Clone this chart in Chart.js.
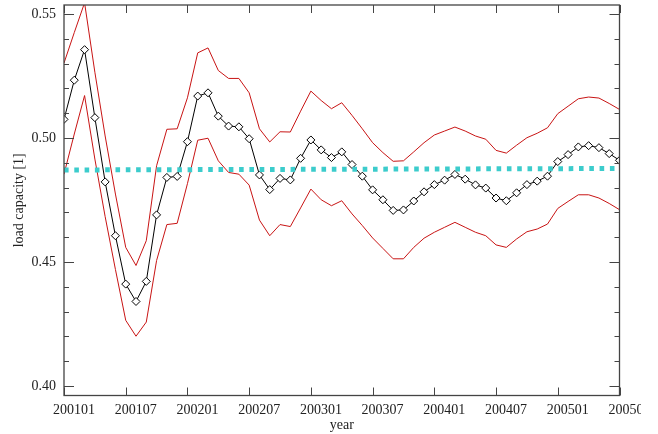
<!DOCTYPE html>
<html>
<head>
<meta charset="utf-8">
<script src="https://cdn.jsdelivr.net/npm/chart.js@4.4.0/dist/chart.umd.min.js"></script>
<style>
  html, body { margin: 0; padding: 0; background: #fff; width: 658px; height: 434px; overflow: hidden; }
  #wrap { position: absolute; left: 0; top: 0; width: 641px; height: 434px; }
</style>
</head>
<body>
<div id="wrap"><canvas id="c" width="641" height="434"></canvas></div>
<script>
// Month index from Jan 2001 (0) to Jul 2005 (54)
const monthIndex = Array.from({ length: 55 }, (_, i) => i);

// Axis ticks
const xTickMonths = [0, 6, 12, 18, 24, 30, 36, 42, 48, 54];
const xTickLabels = ['200101', '200107', '200201', '200207', '200301', '200307', '200401', '200407', '200501', '200507'];
const yTickValues = [0.40, 0.45, 0.50, 0.55];

// Monthly load capacity
const capacity = [
  0.5075, 0.5233, 0.5356, 0.5082, 0.4823, 0.4606, 0.4411, 0.4341, 0.4422, 0.4690,
  0.4841, 0.4845, 0.4985, 0.5169, 0.5182, 0.5088, 0.5048, 0.5045, 0.4997, 0.4851,
  0.4792, 0.4837, 0.4831, 0.4918, 0.4992, 0.4952, 0.4921, 0.4944, 0.4893, 0.4846,
  0.4791, 0.4751, 0.4708, 0.4710, 0.4746, 0.4783, 0.4812, 0.4830, 0.4853, 0.4834,
  0.4811, 0.4798, 0.4758, 0.4747, 0.4779, 0.4812, 0.4826, 0.4846, 0.4905, 0.4933,
  0.4964, 0.4969, 0.4961, 0.4937, 0.4910
];

// Upper and lower uncertainty bounds
const upperBound = [
  0.5302, 0.5425, 0.5545, 0.5265, 0.5008, 0.4774, 0.4559, 0.4486, 0.4586, 0.4888,
  0.5035, 0.5037, 0.5162, 0.5343, 0.5363, 0.5272, 0.5240, 0.5240, 0.5182, 0.5037,
  0.4984, 0.5025, 0.5024, 0.5108, 0.5189, 0.5151, 0.5118, 0.5142, 0.5091, 0.5037,
  0.4981, 0.4941, 0.4906, 0.4908, 0.4944, 0.4981, 0.5012, 0.5028, 0.5044, 0.5028,
  0.5008, 0.4995, 0.4950, 0.4939, 0.4971, 0.5001, 0.5019, 0.5041, 0.5098, 0.5128,
  0.5158, 0.5165, 0.5161, 0.5139, 0.5115
];
const lowerBound = [
  0.4854, 0.5016, 0.5171, 0.4915, 0.4683, 0.4470, 0.4265, 0.4201, 0.4258, 0.4506,
  0.4651, 0.4656, 0.4816, 0.4991, 0.4999, 0.4908, 0.4861, 0.4854, 0.4810, 0.4669,
  0.4606, 0.4651, 0.4643, 0.4718, 0.4794, 0.4751, 0.4727, 0.4747, 0.4694, 0.4647,
  0.4597, 0.4555, 0.4513, 0.4513, 0.4559, 0.4596, 0.4620, 0.4640, 0.4660, 0.4640,
  0.4620, 0.4606, 0.4569, 0.4559, 0.4593, 0.4622, 0.4633, 0.4653, 0.4716, 0.4744,
  0.4771, 0.4771, 0.4758, 0.4736, 0.4711
];

// Linear trend endpoints (first and last month)
const trendMonths = [0, 54];
const trendValues = [0.4871, 0.4877];

const pts = (xs, ys) => xs.map((x, i) => ({ x, y: ys[i] }));
const serif = { family: 'Liberation Serif', size: 14 };
const ink = '#222';

// Closed frame with inward tick marks
const framePlugin = {
  id: 'frame',
  afterDraw(chart) {
    const { ctx, chartArea: a, scales: { x, y } } = chart;
    ctx.save();
    ctx.strokeStyle = '#444';
    ctx.lineWidth = 1.3;
    ctx.strokeRect(a.left, a.top, a.right - a.left, a.bottom - a.top);
    ctx.lineWidth = 1;
    ctx.beginPath();
    xTickMonths.forEach(m => {
      const px = Math.round(x.getPixelForValue(m)) + 0.5;
      ctx.moveTo(px, a.bottom); ctx.lineTo(px, a.bottom - 8);
      ctx.moveTo(px, a.top); ctx.lineTo(px, a.top + 8);
    });
    for (let k = 40; k <= 55; k++) {
      const py = Math.round(y.getPixelForValue(k / 100)) + 0.5;
      const len = k % 5 === 0 ? 10 : 5;
      ctx.moveTo(a.left, py); ctx.lineTo(a.left + len, py);
      ctx.moveTo(a.right, py); ctx.lineTo(a.right - len, py);
    }
    ctx.stroke();
    ctx.restore();
  }
};

new Chart(document.getElementById('c'), {
  type: 'line',
  data: {
    datasets: [
      {
        data: pts(trendMonths, trendValues),
        borderColor: '#3ccccc', borderWidth: 5, borderDash: [4.6, 5.7],
        borderCapStyle: 'butt', pointRadius: 0, order: 0
      },
      {
        data: pts(monthIndex, capacity),
        borderColor: '#000', borderWidth: 1,
        pointStyle: 'rectRot', pointRadius: 4, pointBorderWidth: 1,
        pointBorderColor: '#000', pointBackgroundColor: '#fff', order: 1
      },
      {
        data: pts(monthIndex, upperBound),
        borderColor: '#c81414', borderWidth: 1, pointRadius: 0, order: 2
      },
      {
        data: pts(monthIndex, lowerBound),
        borderColor: '#c81414', borderWidth: 1, pointRadius: 0, order: 2
      }
    ]
  },
  options: {
    responsive: false,
    animation: false,
    events: [],
    layout: { padding: { top: 3.5, right: 21.5, bottom: 0, left: 0 } },
    elements: { line: { tension: 0, fill: false } },
    plugins: { legend: { display: false }, tooltip: { enabled: false } },
    scales: {
      x: {
        type: 'linear', min: 0, max: 54,
        afterBuildTicks: s => { s.ticks = xTickMonths.map(v => ({ value: v })); },
        ticks: {
          autoSkip: false, maxRotation: 0, minRotation: 0,
          labelOffset: 10, padding: 6,
          callback: (v, i) => xTickLabels[i],
          font: serif, color: ink
        },
        grid: { display: false, drawTicks: false },
        border: { display: false },
        title: { display: true, text: 'year', font: serif, color: ink, padding: { top: 0, bottom: 0.5 } },
        afterFit: s => { s.height = 38.5; s.paddingLeft = 0; s.paddingRight = 0; }
      },
      y: {
        type: 'linear', min: 0.3962, max: 0.5536,
        afterBuildTicks: s => { s.ticks = yTickValues.map(v => ({ value: v })); },
        ticks: {
          callback: v => v.toFixed(2),
          font: serif, color: ink, padding: 8
        },
        grid: { display: false, drawTicks: false },
        border: { display: false },
        title: { display: true, text: 'load capacity [1]', font: serif, color: ink, padding: { top: 11, bottom: 0 } },
        afterFit: s => { s.width = 64; s.paddingTop = 0; s.paddingBottom = 0; }
      }
    }
  },
  plugins: [framePlugin]
});
</script>
</body>
</html>
